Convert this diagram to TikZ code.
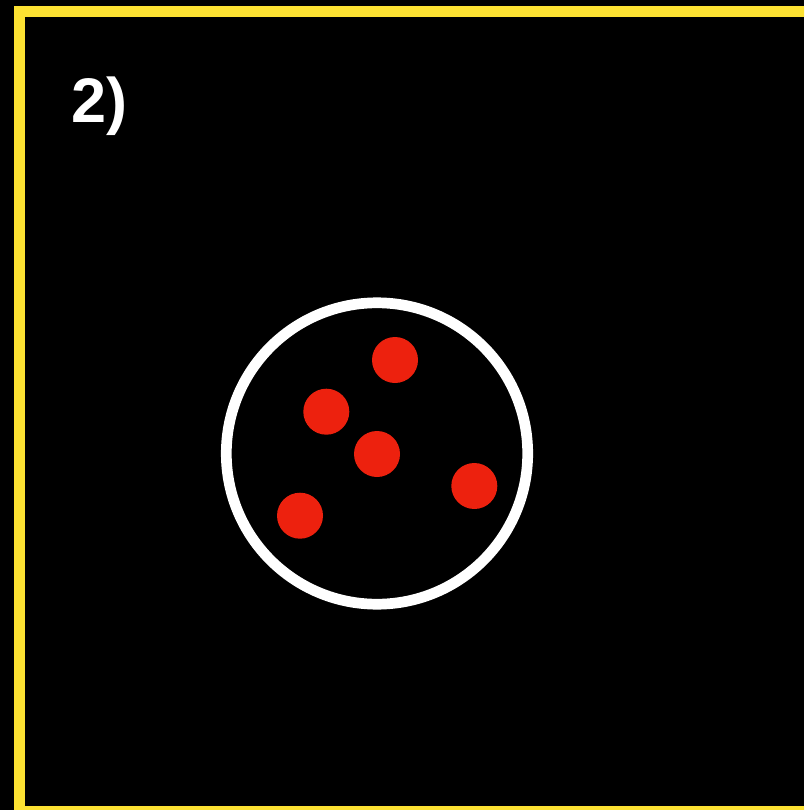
\documentclass[tikz,border=0pt]{standalone}
\usepackage{fontspec}
\setmainfont{Liberation Sans}
\usetikzlibrary{positioning}

\definecolor{frameyellow}{RGB}{252,225,50}
\definecolor{dotred}{RGB}{237,33,14}

\begin{document}
\begin{tikzpicture}
    [
        x=1pt, y=-1pt,
        ring/.style={draw=white, circle, line width=10.7pt, minimum size=301.4pt, inner sep=0pt},
        particle/.style={fill=dotred, circle, minimum size=46pt, inner sep=0pt},
        label/.style={text=white, font=\fontsize{63}{63}\selectfont\bfseries, inner sep=0pt, anchor=base west}
    ]
        % =========================================================================
        % BACKGROUND AND FRAME
        % =========================================================================
        \useasboundingbox (0,0) rectangle (804,810);
        \clip (0,0) rectangle (804,810);
        \fill [black] (0,0) rectangle (804,810);
        \draw [frameyellow, line width=11pt] (19.5,11.5) rectangle (830,811.5);

        % =========================================================================
        % NODES
        % =========================================================================
        \node [label] (step) at (71,123) {2)};
        \node [ring] (cell) at (377,453.5) {};
        % --- Particles ---
        \node [particle] (p1) at (395,360) {};
        \node [particle] (p2) at (326.3,411.7) {};
        \node [particle] (p3) at (377,454) {};
        \node [particle] (p4) at (474.3,486) {};
        \node [particle] (p5) at (300,515.7) {};

    \end{tikzpicture}
\end{document}
